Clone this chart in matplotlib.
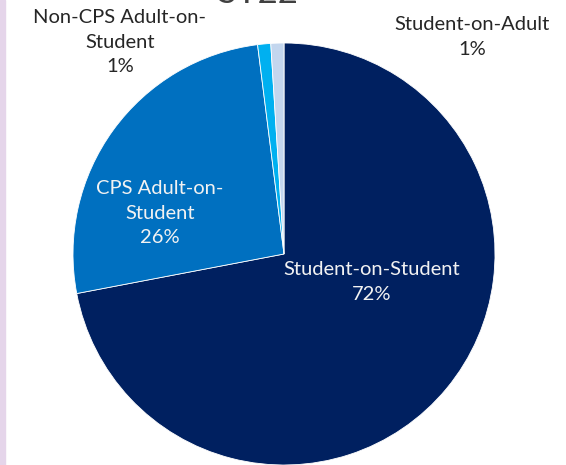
import matplotlib.pyplot as plt
from matplotlib.patches import Rectangle

categories = ["Student-on-Student", "CPS Adult-on-\nStudent", "Non-CPS Adult-on-\nStudent", "Student-on-Adult"]
values = [72, 26, 1, 1]
colors = ["#002060", "#0070c0", "#00b0f0", "#c3d6ee"]

W, H = 566, 465
cx, cy, r = 284, 254, 211

fig = plt.figure(figsize=(W / 100, H / 100), dpi=100)
ax = fig.add_axes([0, 0, 1, 1])

ax.pie(values, colors=colors, startangle=90, counterclock=False,
       wedgeprops=dict(edgecolor="white", linewidth=0.6))
ax.set_xlim(-cx / r, (W - cx) / r)
ax.set_ylim(-(H - cy) / r, cy / r)
ax.set_aspect("auto")
ax.axis("off")


def px(x, y):
    return (x - cx) / r, (cy - y) / r


# label positions (pixels in the picture), text colour
label_pos = [(372, 282, "#f2f2f2"), (160, 213, "#f2f2f2"), (120, 42, "#262626"), (472, 37, "#262626")]
for cat, v, (x, y, c) in zip(categories, values, label_pos):
    lx, ly = px(x, y)
    ax.text(lx, ly, f"{cat}\n{v}%", ha="center", va="center", color=c,
            fontsize=14.5, family="Lato", linespacing=1.55)

# title, mostly cut off at the top as in the picture
fig.text(258 / W, 1 - 3 / H, "SY22", ha="center", va="baseline", fontsize=25,
         family="Lato", color="#404040")

fig.patches.append(Rectangle((0, 0), 5 / W, 1, transform=fig.transFigure,
                             color="#e5d5ea", zorder=0))

fig.savefig("out.png", dpi=100)
